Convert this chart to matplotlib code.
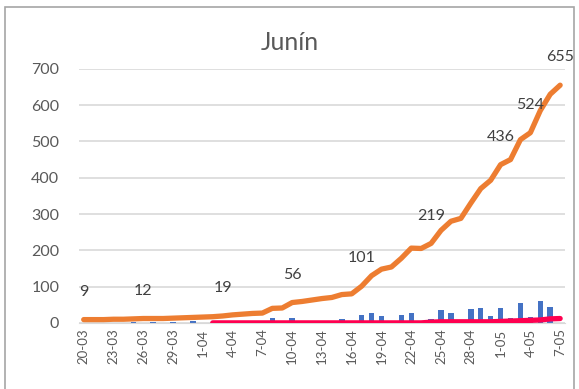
import matplotlib.pyplot as plt
from matplotlib.patches import Rectangle

plt.rcParams['font.family'] = ['Lato', 'DejaVu Sans']

# fechas 20-03 .. 7-05
fechas = ['20-03', '21-03', '22-03', '23-03', '24-03', '25-03', '26-03', '27-03',
          '28-03', '29-03', '30-03', '31-03', '1-04', '2-04', '3-04', '4-04',
          '5-04', '6-04', '7-04', '8-04', '9-04', '10-04', '11-04', '12-04',
          '13-04', '14-04', '15-04', '16-04', '17-04', '18-04', '19-04', '20-04',
          '21-04', '22-04', '23-04', '24-04', '25-04', '26-04', '27-04', '28-04',
          '29-04', '30-04', '1-05', '2-05', '3-05', '4-05', '5-05', '6-05', '7-05']

# casos acumulados
acumulados = [9, 9, 9, 10, 10, 11, 12, 12, 12, 13, 14, 15, 16, 17, 19, 22,
              24, 26, 27, 40, 41, 56, 59, 63, 67, 70, 78, 80, 101, 130, 148, 154,
              178, 206, 205, 219, 255, 280, 288, 330, 370, 393, 436, 450, 505, 524,
              585, 630, 655]

# casos nuevos por dia
nuevos = [1, 1, 0, 1, 1, 2, 1, 2, 1, 2, 1, 4, 0, 0, 0, 3,
          0, 0, 0, 13, 0, 13, 0, 4, 0, 0, 10, 0, 21, 28, 19, 0,
          22, 28, 0, 11, 36, 26, 0, 39, 40, 19, 40, 13, 54, 15,
          61, 43, 0]

# fallecidos (desde 2-04)
fallecidos = [None] * 13 + [0] * 22 + [2, 3, 3, 3, 3, 3, 3, 4, 5, 6, 7, 8, 11, 12]

etiquetas = {0: 9, 6: 12, 14: 19, 21: 56, 28: 101, 35: 219, 42: 436, 45: 524, 48: 655}

x = list(range(len(fechas)))
fig = plt.figure(figsize=(5.79, 3.89), dpi=100)
ax = fig.add_axes([0.136, 0.170, 0.84, 0.653])

ax.bar(x, nuevos, width=0.55, color='#4472C4', zorder=2)
xf = [i for i in x if fallecidos[i] is not None]
ax.plot(xf, [fallecidos[i] for i in xf], color='#FF0050', lw=3.8, zorder=3,
        solid_capstyle='round')
ax.plot(x, acumulados, color='#ED7D31', lw=3.8, zorder=4, solid_capstyle='round')

for i, v in etiquetas.items():
    ax.annotate(str(v), (i, acumulados[i]), xytext=(0, 15), textcoords='offset points',
                ha='center', va='bottom', fontsize=11.5, color='#404040', zorder=5)

ax.set_xlim(-0.5, len(fechas) - 0.5)
ax.set_ylim(0, 700)
ax.set_yticks(range(0, 701, 100))
ax.set_xticks(x[::3])
ax.set_xticklabels(fechas[::3], rotation=90, fontsize=9.5, color='#595959')
ax.tick_params(axis='y', labelsize=11.5, labelcolor='#595959', length=0, pad=14)
ax.tick_params(axis='x', length=0, pad=4)
ax.grid(axis='y', color='#D9D9D9', lw=1.2)
ax.set_axisbelow(True)
for s in ['top', 'right', 'left']:
    ax.spines[s].set_visible(False)
ax.spines['bottom'].set_color('#D9D9D9')

fig.text(0.50, 0.89, 'Junín', ha='center', va='center', fontsize=18, color='#595959')
fig.patches.append(Rectangle((5 / 579, -0.1), 569 / 579, 1 - 7 / 389 + 0.1,
                             transform=fig.transFigure, fill=False,
                             edgecolor='#A6A6A6', lw=1.2))

fig.savefig('out.png', dpi=100)
